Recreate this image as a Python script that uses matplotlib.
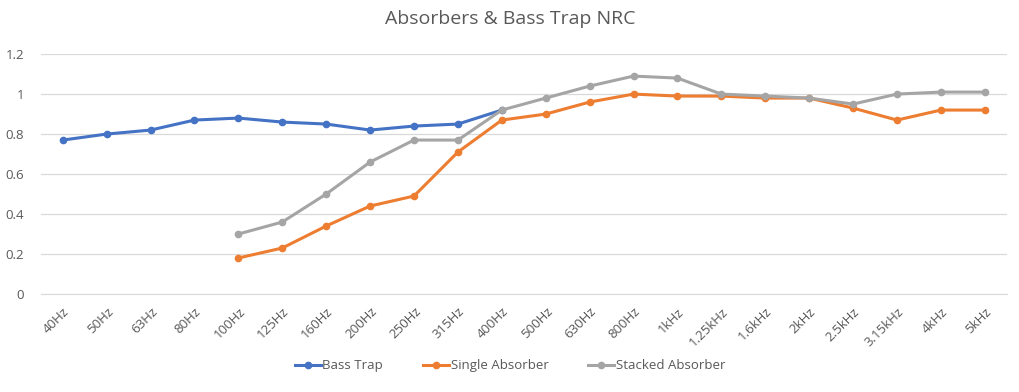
import matplotlib
matplotlib.use('Agg')
import matplotlib.pyplot as plt
import numpy as np

freqs = ["40Hz", "50Hz", "63Hz", "80Hz", "100Hz", "125Hz", "160Hz", "200Hz",
         "250Hz", "315Hz", "400Hz", "500Hz", "630Hz", "800Hz", "1kHz", "1.25kHz",
         "1.6kHz", "2kHz", "2.5kHz", "3.15kHz", "4kHz", "5kHz"]

nan = np.nan
bass_trap = [0.77, 0.80, 0.82, 0.87, 0.88, 0.86, 0.85, 0.82, 0.84, 0.85, 0.92,
             nan, nan, nan, nan, nan, nan, nan, nan, nan, nan, nan]
single_absorber = [nan, nan, nan, nan, 0.18, 0.23, 0.34, 0.44, 0.49, 0.71, 0.87,
                   0.90, 0.96, 1.00, 0.99, 0.99, 0.98, 0.98, 0.93, 0.87, 0.92, 0.92]
stacked_absorber = [nan, nan, nan, nan, 0.30, 0.36, 0.50, 0.66, 0.77, 0.77, 0.92,
                    0.98, 1.04, 1.09, 1.08, 1.00, 0.99, 0.98, 0.95, 1.00, 1.01, 1.01]

plt.rcParams['font.family'] = ['Open Sans', 'DejaVu Sans']
txt = '#595959'

fig = plt.figure(figsize=(10.2, 3.92), dpi=100)
ax = fig.add_axes([0.040, 0.25, 0.947, 0.612])

x = np.arange(len(freqs))
ax.plot(x, bass_trap, color='#4472C4', lw=2.2, marker='o', ms=4.5, label='Bass Trap', zorder=3)
ax.plot(x, single_absorber, color='#ED7D31', lw=2.2, marker='o', ms=4.5, label='Single Absorber', zorder=3)
ax.plot(x, stacked_absorber, color='#A5A5A5', lw=2.2, marker='o', ms=4.5, label='Stacked Absorber', zorder=3)

ax.set_xlim(-0.5, len(freqs) - 0.5)
ax.set_ylim(0, 1.2)
ax.set_yticks([0, 0.2, 0.4, 0.6, 0.8, 1.0, 1.2])
ax.set_yticklabels(['0', '0.2', '0.4', '0.6', '0.8', '1', '1.2'])
ax.set_xticks(x)
ax.set_xticklabels(freqs, rotation=45, ha='right', rotation_mode='anchor')
ax.tick_params(axis='both', length=0, labelsize=9.5, colors=txt)
ax.tick_params(axis='x', pad=8)
ax.tick_params(axis='y', pad=12)
ax.grid(axis='y', color='#D9D9D9', lw=0.9)
ax.set_axisbelow(True)
for s in ['top', 'right', 'left']:
    ax.spines[s].set_visible(False)
ax.spines['bottom'].set_color('#D9D9D9')

fig.suptitle('Absorbers & Bass Trap NRC', x=0.5, y=0.975, fontsize=14, color=txt)
fig.legend(loc='lower center', bbox_to_anchor=(0.5, 0.02), ncol=3, frameon=False,
           fontsize=9.5, labelcolor=txt, handlelength=2.0, handletextpad=0.1,
           columnspacing=3.0)

fig.savefig('out.png', dpi=100)
